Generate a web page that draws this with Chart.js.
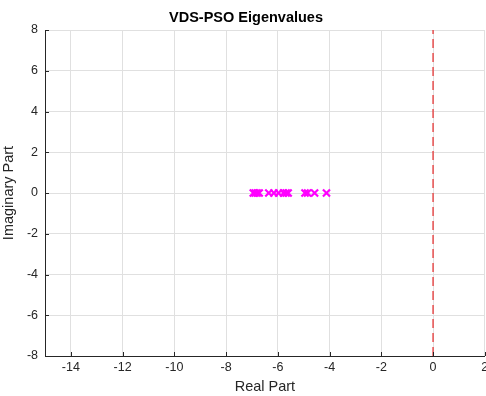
<!DOCTYPE html>
<html>
<head>
<meta charset="utf-8">
<script src="https://cdn.jsdelivr.net/npm/chart.js@4/dist/chart.umd.min.js"></script>
<style>
  html, body { margin: 0; padding: 0; background: #fff; overflow: hidden; }
  #wrap { width: 492px; height: 396px; }
</style>
</head>
<body>
<div id="wrap"><canvas id="canvas1"></canvas></div>
<script>
// eigenvalues (real part, imaginary part)
const realParts = [-6.95, -6.88, -6.80, -6.72, -6.35, -6.15, -5.97, -5.78, -5.68, -5.60, -4.95, -4.85, -4.58, -4.12];
const imagParts = [0, 0, 0, 0, 0, 0, 0, 0, 0, 0, 0, 0, 0, 0];
const xTicks = [-14, -12, -10, -8, -6, -4, -2, 0, 2];
const yTicks = [-8, -6, -4, -2, 0, 2, 4, 6, 8];
const stabilityLine = [{ x: 0, y: -8 }, { x: 0, y: 8 }];

const axisColor = '#262626';
const font = 'Arial, "Liberation Sans", sans-serif';

// MATLAB style inward tick marks
const inwardTicks = {
    id: 'inwardTicks',
    afterDraw(chart) {
        const ctx = chart.ctx;
        const area = chart.chartArea;
        const xs = chart.scales.x, ys = chart.scales.y;
        ctx.save();
        ctx.strokeStyle = axisColor;
        ctx.lineWidth = 1;
        ctx.beginPath();
        xTicks.forEach(v => {
            const px = Math.round(xs.getPixelForValue(v)) + 0.5;
            ctx.moveTo(px, area.bottom);
            ctx.lineTo(px, area.bottom - 4);
        });
        yTicks.forEach(v => {
            const py = Math.round(ys.getPixelForValue(v)) + 0.5;
            ctx.moveTo(area.left, py);
            ctx.lineTo(area.left + 4, py);
        });
        ctx.stroke();
        ctx.restore();
    }
};

new Chart(document.getElementById('canvas1'), {
    type: 'scatter',
    data: {
        datasets: [
            {
                label: 'Eigenvalues',
                data: realParts.map((re, i) => ({ x: re, y: imagParts[i] })),
                pointStyle: 'crossRot',
                radius: 5,
                borderColor: '#ff00ff',
                backgroundColor: '#ff00ff',
                borderWidth: 2.2,
                order: 1
            },
            {
                label: 'Stability boundary',
                type: 'line',
                data: stabilityLine,
                borderColor: 'rgba(230, 50, 50, 0.85)',
                borderWidth: 1.5,
                borderDash: [9, 5],
                pointRadius: 0,
                showLine: true,
                order: 2
            }
        ]
    },
    options: {
        responsive: true,
        maintainAspectRatio: false,
        animation: false,
        devicePixelRatio: 1,
        layout: { padding: 0 },
        scales: {
            x: {
                type: 'linear',
                min: -15,
                max: 2,
                afterBuildTicks: scale => { scale.ticks = xTicks.map(v => ({ value: v })); },
                afterFit: scale => { scale.height = 40; scale.paddingLeft = 0; scale.paddingRight = 0; },
                ticks: {
                    color: axisColor,
                    font: { family: font, size: 12.5 },
                    padding: 4,
                    maxRotation: 0,
                    autoSkip: false
                },
                grid: { color: '#e0e0e0', drawTicks: false },
                border: { color: axisColor, width: 1 },
                title: {
                    display: true,
                    text: 'Real Part',
                    color: axisColor,
                    font: { family: font, size: 14.5 },
                    padding: { top: 1, bottom: 0 }
                }
            },
            y: {
                type: 'linear',
                min: -8,
                max: 8,
                afterBuildTicks: scale => { scale.ticks = yTicks.map(v => ({ value: v })); },
                afterFit: scale => { scale.width = 45; scale.paddingTop = 0; scale.paddingBottom = 0; },
                ticks: {
                    color: axisColor,
                    font: { family: font, size: 12.5 },
                    padding: 7,
                    autoSkip: false
                },
                grid: { color: '#e0e0e0', drawTicks: false },
                border: { color: axisColor, width: 1 },
                title: {
                    display: true,
                    text: 'Imaginary Part',
                    color: axisColor,
                    font: { family: font, size: 14.5 },
                    padding: { top: 0, bottom: 1 }
                }
            }
        },
        plugins: {
            legend: { display: false },
            tooltip: { enabled: false },
            title: {
                display: true,
                text: 'VDS-PSO Eigenvalues',
                color: '#000',
                font: { family: font, size: 14.5, weight: 'bold', lineHeight: 1.2 },
                padding: { top: 9, bottom: 3.6 }
            }
        }
    },
    plugins: [inwardTicks]
});
</script>
</body>
</html>
